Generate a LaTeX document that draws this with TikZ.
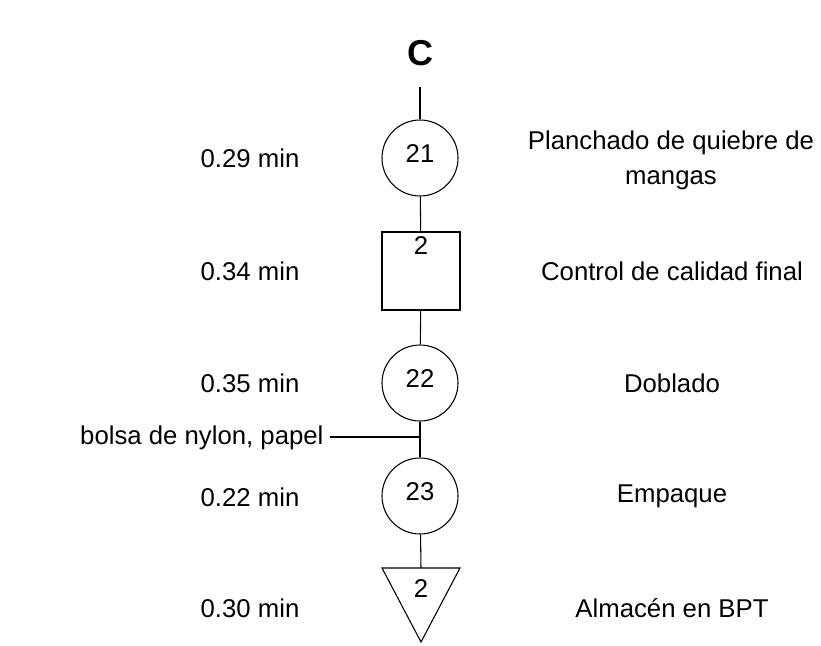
\documentclass[tikz,border=0pt]{standalone}
\usepackage{fontspec}
\setmainfont{Liberation Sans}
\begin{document}
\begin{tikzpicture}[x=0.75pt,y=-0.75pt,line width=0.8pt,
	txt/.style={font=\fontsize{19.3}{26.25}\selectfont,inner sep=0pt},
	oper/.style={draw,circle,minimum size=57pt,inner sep=0pt,text depth=6pt,txt},
	insp/.style={draw,rectangle,minimum size=58.5pt,inner sep=0pt}]
	\useasboundingbox (0,0) rectangle (821,646);
	% diagrama
	\node[font=\fontsize{27}{30}\selectfont\bfseries] (c) at (420,53) {C};
	\coordinate (ctop) at (420,87);
	\node[oper] (op21) at (420,158) {21};
	\node[insp] (ins2) at (421,271) {};
	\node[txt] (ins2n) at (421,246) {2};
	\node[oper] (op22) at (420,383) {22};
	\node[oper] (op23) at (420,496) {23};
	\draw (382,568) -- (460,568) -- (421,642) -- cycle;
	\coordinate (alm) at (421,568);
	\node[txt] (alm2) at (421,589) {2};
	\draw (ctop) -- (op21);
	\draw (op21) -- (ins2);
	\draw (ins2) -- (op22);
	\draw (op22) -- (op23);
	\draw (op23) -- (alm);
	% material
	\node[txt,anchor=east] (bolsa) at (324,438) {bolsa de nylon, papel};
	\coordinate (bolsafin) at (330,437);
	\draw (bolsafin) -- (bolsafin -| op22);
	% tiempos
	\node[txt] (t21) at (250,158) {0.29 min};
	\node[txt] (t2) at (250,271) {0.34 min};
	\node[txt] (t22) at (250,383) {0.35 min};
	\node[txt] (t23) at (250,497) {0.22 min};
	\node[txt] (t3) at (250,608) {0.30 min};
	% descripciones
	\node[txt,align=center] (d21) at (671,160) {Planchado de quiebre de\\mangas};
	\node[txt] (d2) at (672,271) {Control de calidad final};
	\node[txt] (d22) at (672,383) {Doblado};
	\node[txt] (d23) at (672,496) {Empaque};
	\node[txt] (d3) at (672,608) {Almacén en BPT};
\end{tikzpicture}
\end{document}
